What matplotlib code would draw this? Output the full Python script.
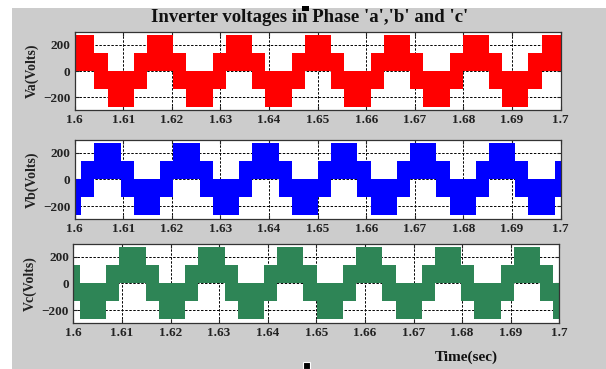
import matplotlib
matplotlib.use('Agg')
import matplotlib.pyplot as plt
from matplotlib.patches import Rectangle

# one period of the stepped waveform
period = 0.01624                       # s
seg_deg = [120, 60, 120, 60]           # width of each step, degrees
seg_lo = [0, -135, -270, -135]         # lower edge of the band, V
seg_hi = [270, 135, 0, 135]            # upper edge of the band, V

# start time of a positive block (0..270 V) for each phase
phase_names = ['Va(Volts)', 'Vb(Volts)', 'Vc(Volts)']
phase_start = [1.59864, 1.60405, 1.60947]
phase_colors = ['#ff0000', '#0000ff', '#2e8556']

x_ticks = [1.6, 1.61, 1.62, 1.63, 1.64, 1.65, 1.66, 1.67, 1.68, 1.69, 1.7]
y_ticks = [-200, 0, 200]


def steps(start):
    t, lo, hi = [], [], []
    t0 = start - 2 * period
    while t0 < 1.72:
        for d, l, h in zip(seg_deg, seg_lo, seg_hi):
            t.append(t0)
            lo.append(l)
            hi.append(h)
            t0 += period * d / 360
    t.append(t0)
    lo.append(lo[-1])
    hi.append(hi[-1])
    return t, lo, hi


plt.rcParams['font.family'] = 'Liberation Serif'
plt.rcParams['font.weight'] = 'bold'

W, H = 606, 369
fig = plt.figure(figsize=(W / 100, H / 100), dpi=100, facecolor='white')
fig.patches.append(Rectangle((12 / W, 0), 1, (H - 8) / H, transform=fig.transFigure,
                             facecolor='#cccccc', edgecolor='none', zorder=-1))
# selection handles
fig.patches.append(Rectangle((302 / W, 1 - 11 / H), 7 / W, 5 / H, transform=fig.transFigure,
                             facecolor='black', edgecolor='none'))
fig.patches.append(Rectangle((303 / W, 0), 7 / W, 7 / H, transform=fig.transFigure,
                             facecolor='black', edgecolor='white', linewidth=0.8))

# axes boxes in pixels: left, top, right, bottom
boxes = [(74.7, 32, 560.7, 110), (74.7, 140, 560.7, 218.7), (73.3, 244, 559.3, 322.7)]

for i in range(3):
    l, tp, r, b = boxes[i]
    ax = fig.add_axes([l / W, (H - b) / H, (r - l) / W, (b - tp) / H])
    t, lo, hi = steps(phase_start[i])
    ax.fill_between(t, lo, hi, step='post', color=phase_colors[i], linewidth=0)
    ax.set_xlim(1.6, 1.7)
    ax.set_ylim(-295, 295)
    ax.set_xticks(x_ticks)
    ax.set_xticklabels(['%g' % v for v in x_ticks])
    ax.set_yticks(y_ticks)
    ax.set_axisbelow(True)
    ax.grid(True, color='black', linestyle=(0, (2.5, 1.6)), linewidth=0.7)
    ax.tick_params(direction='in', length=3, width=0.8, top=True, right=True,
                   labelsize=9.5, pad=3, colors='#222222')
    for s in ax.spines.values():
        s.set_color('#333333')
        s.set_linewidth(0.9)
    ax.set_ylabel(phase_names[i], fontsize=10, fontweight='bold', color='#222222')
    ax.yaxis.set_label_coords(-0.074, 0.5)

fig.text(310 / W, 1 - 17 / H, "Inverter voltages in Phase 'a','b' and 'c'",
         ha='center', va='center', fontsize=13.5, fontweight='bold', color='#111111')
fig.text(466 / W, 1 - 357 / H, 'Time(sec)', ha='center', va='center',
         fontsize=11, fontweight='bold', color='#111111')

fig.savefig('out.png', dpi=100, facecolor='white')
